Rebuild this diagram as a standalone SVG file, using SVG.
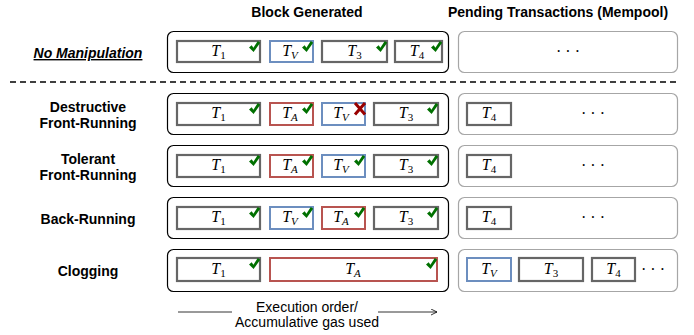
<svg xmlns="http://www.w3.org/2000/svg" width="694" height="335" viewBox="0 0 694 335">
<style>
.lbl{font-family:"Liberation Sans",Arial,sans-serif;font-weight:bold;font-size:14px;text-anchor:middle;fill:#000}
.hdr{font-family:"Liberation Sans",Arial,sans-serif;font-weight:bold;font-size:14px;text-anchor:middle;fill:#000}
.blk{fill:#fff;stroke:#000;stroke-width:1.2}
.mem{fill:#fff;stroke:#a6a6a6;stroke-width:1.2}
.tg{fill:#fff;stroke:#666;stroke-width:2.2}
.tb{fill:#fff;stroke:#6c8ebf;stroke-width:2}
.tr{fill:#fff;stroke:#b85450;stroke-width:2}
.m{font-family:"Liberation Serif","Times New Roman",serif;font-size:16px;text-anchor:middle;fill:#000}
.it{font-style:italic}
.sub{font-size:11px}
.dots{font-family:"Liberation Serif",serif;font-size:16px;text-anchor:middle;fill:#000}
.ck{fill:#007000}
.x{stroke:#990000;stroke-width:3;stroke-linecap:butt}
.bt{font-family:"Liberation Sans",Arial,sans-serif;font-size:14px;text-anchor:middle;fill:#000}
</style>
<defs>
<path id="chk" d="M0,6.5 L2.7,4.2 L4.4,6.8 L8.8,0 L11.2,1.7 L4.6,11 Z"/>
<marker id="arr" markerWidth="8" markerHeight="8" refX="6" refY="3" orient="auto" markerUnits="userSpaceOnUse">
<path d="M0,0 L6,3 L0,6" fill="none" stroke="#000" stroke-width="0.8"/>
</marker>
</defs>

<text class="hdr" x="307" y="17">Block Generated</text>
<text class="hdr" x="558" y="17">Pending Transactions (Mempool)</text>

<g id="labels">
<text class="lbl" x="88" y="58" font-style="italic" text-decoration="underline">No Manipulation</text>
<text class="lbl" x="88" y="112">Destructive</text>
<text class="lbl" x="88" y="128">Front-Running</text>
<text class="lbl" x="88" y="164">Tolerant</text>
<text class="lbl" x="88" y="180">Front-Running</text>
<text class="lbl" x="88" y="224">Back-Running</text>
<text class="lbl" x="88" y="276">Clogging</text>
</g>

<line x1="10" y1="82" x2="678" y2="82" stroke="#000" stroke-width="1.5" stroke-dasharray="6,4"/>

<!-- Row 1 -->
<g id="row1-block">
<rect class="blk" x="167.5" y="31.5" width="281" height="41" rx="6"/>
<rect class="tg" x="177" y="41" width="83" height="21"/>
<text class="m" x="218.5" y="56"><tspan class="it">T</tspan><tspan class="sub" dy="3">1</tspan></text>
<use href="#chk" class="ck" x="249" y="41"/>
<rect class="tb" x="270" y="41" width="43" height="21"/>
<text class="m" x="290" y="56"><tspan class="it">T</tspan><tspan class="sub it" dy="3">V</tspan></text>
<use href="#chk" class="ck" x="302" y="41"/>
<rect class="tg" x="322" y="41" width="65" height="21"/>
<text class="m" x="354.5" y="56"><tspan class="it">T</tspan><tspan class="sub" dy="3">3</tspan></text>
<use href="#chk" class="ck" x="376" y="41"/>
<rect class="tg" x="395" y="41" width="47" height="21"/>
<text class="m" x="417" y="56"><tspan class="it">T</tspan><tspan class="sub" dy="3">4</tspan></text>
<use href="#chk" class="ck" x="431" y="41"/>
</g>
<g id="row1-mempool">
<rect class="mem" x="458.5" y="31.5" width="219" height="41" rx="6"/>
<text class="dots" x="568" y="57">· · ·</text>
</g>

<!-- Row 2 -->
<g id="row2-block">
<rect class="blk" x="167.5" y="93.5" width="281" height="41" rx="6"/>
<rect class="tg" x="177" y="103" width="83" height="22"/>
<text class="m" x="218.5" y="118"><tspan class="it">T</tspan><tspan class="sub" dy="3">1</tspan></text>
<use href="#chk" class="ck" x="249" y="103"/>
<rect class="tr" x="270" y="103" width="43" height="22"/>
<text class="m" x="290" y="118"><tspan class="it">T</tspan><tspan class="sub it" dy="3">A</tspan></text>
<use href="#chk" class="ck" x="302" y="103"/>
<rect class="tb" x="322" y="103" width="43" height="22"/>
<text class="m" x="341" y="118"><tspan class="it">T</tspan><tspan class="sub it" dy="3">V</tspan></text>
<path class="x" d="M355,103 L365,114.5 M365,103 L355,114.5"/>
<rect class="tg" x="374" y="103" width="64" height="22"/>
<text class="m" x="406" y="118"><tspan class="it">T</tspan><tspan class="sub" dy="3">3</tspan></text>
<use href="#chk" class="ck" x="427" y="103"/>
</g>
<g id="row2-mempool">
<rect class="mem" x="458.5" y="93.5" width="219" height="41" rx="6"/>
<rect class="tg" x="467" y="103" width="44" height="22"/>
<text class="m" x="489" y="118"><tspan class="it">T</tspan><tspan class="sub" dy="3">4</tspan></text>
<text class="dots" x="593" y="119">· · ·</text>
</g>

<!-- Row 3 -->
<g id="row3-block">
<rect class="blk" x="167.5" y="145.5" width="281" height="41" rx="6"/>
<rect class="tg" x="177" y="155" width="83" height="22"/>
<text class="m" x="218.5" y="170"><tspan class="it">T</tspan><tspan class="sub" dy="3">1</tspan></text>
<use href="#chk" class="ck" x="249" y="155"/>
<rect class="tr" x="270" y="155" width="43" height="22"/>
<text class="m" x="290" y="170"><tspan class="it">T</tspan><tspan class="sub it" dy="3">A</tspan></text>
<use href="#chk" class="ck" x="302" y="155"/>
<rect class="tb" x="322" y="155" width="43" height="22"/>
<text class="m" x="341" y="170"><tspan class="it">T</tspan><tspan class="sub it" dy="3">V</tspan></text>
<use href="#chk" class="ck" x="354" y="155"/>
<rect class="tg" x="374" y="155" width="64" height="22"/>
<text class="m" x="406" y="170"><tspan class="it">T</tspan><tspan class="sub" dy="3">3</tspan></text>
<use href="#chk" class="ck" x="427" y="155"/>
</g>
<g id="row3-mempool">
<rect class="mem" x="458.5" y="145.5" width="219" height="41" rx="6"/>
<rect class="tg" x="467" y="155" width="44" height="22"/>
<text class="m" x="489" y="170"><tspan class="it">T</tspan><tspan class="sub" dy="3">4</tspan></text>
<text class="dots" x="593" y="171">· · ·</text>
</g>

<!-- Row 4 -->
<g id="row4-block">
<rect class="blk" x="167.5" y="197.5" width="281" height="41" rx="6"/>
<rect class="tg" x="177" y="207" width="83" height="22"/>
<text class="m" x="218.5" y="222"><tspan class="it">T</tspan><tspan class="sub" dy="3">1</tspan></text>
<use href="#chk" class="ck" x="249" y="207"/>
<rect class="tb" x="270" y="207" width="43" height="22"/>
<text class="m" x="290" y="222"><tspan class="it">T</tspan><tspan class="sub it" dy="3">V</tspan></text>
<use href="#chk" class="ck" x="302" y="207"/>
<rect class="tr" x="322" y="207" width="43" height="22"/>
<text class="m" x="341" y="222"><tspan class="it">T</tspan><tspan class="sub it" dy="3">A</tspan></text>
<use href="#chk" class="ck" x="354" y="207"/>
<rect class="tg" x="374" y="207" width="64" height="22"/>
<text class="m" x="406" y="222"><tspan class="it">T</tspan><tspan class="sub" dy="3">3</tspan></text>
<use href="#chk" class="ck" x="427" y="207"/>
</g>
<g id="row4-mempool">
<rect class="mem" x="458.5" y="197.5" width="219" height="41" rx="6"/>
<rect class="tg" x="467" y="207" width="44" height="22"/>
<text class="m" x="489" y="222"><tspan class="it">T</tspan><tspan class="sub" dy="3">4</tspan></text>
<text class="dots" x="593" y="223">· · ·</text>
</g>

<!-- Row 5 -->
<g id="row5-block">
<rect class="blk" x="167.5" y="249.5" width="281" height="42" rx="6"/>
<rect class="tg" x="177" y="258" width="83" height="23"/>
<text class="m" x="218.5" y="274"><tspan class="it">T</tspan><tspan class="sub" dy="3">1</tspan></text>
<use href="#chk" class="ck" x="249" y="258"/>
<rect class="tr" x="270" y="258" width="167" height="23"/>
<text class="m" x="353" y="274"><tspan class="it">T</tspan><tspan class="sub it" dy="3">A</tspan></text>
<use href="#chk" class="ck" x="426" y="258"/>
</g>
<g id="row5-mempool">
<rect class="mem" x="458.5" y="249.5" width="219" height="42" rx="6"/>
<rect class="tb" x="467" y="258" width="44" height="23"/>
<text class="m" x="489" y="274"><tspan class="it">T</tspan><tspan class="sub it" dy="3">V</tspan></text>
<rect class="tg" x="519" y="258" width="64" height="23"/>
<text class="m" x="551" y="274"><tspan class="it">T</tspan><tspan class="sub" dy="3">3</tspan></text>
<rect class="tg" x="592" y="258" width="43" height="23"/>
<text class="m" x="613.5" y="274"><tspan class="it">T</tspan><tspan class="sub" dy="3">4</tspan></text>
<text class="dots" x="653" y="275">· · ·</text>
</g>

<g id="connectors">
<line x1="178" y1="312" x2="232" y2="312" stroke="#000" stroke-width="0.8"/>
<line x1="378" y1="312" x2="437" y2="312" stroke="#000" stroke-width="0.8" marker-end="url(#arr)"/>
</g>
<text class="bt" x="307" y="312">Execution order/</text>
<text class="bt" x="307" y="327">Accumulative gas used</text>
</svg>
